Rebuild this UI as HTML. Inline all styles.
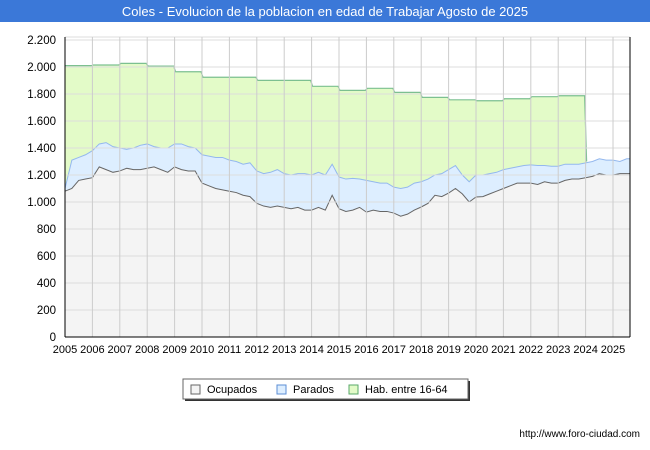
<!DOCTYPE html>
<html><head><meta charset="utf-8"><style>
body{margin:0;background:#fff;font-family:"Liberation Sans",sans-serif}
svg{display:block}
</style></head><body>
<svg id="c" width="650" height="450" viewBox="0 0 650 450">
<rect x="0" y="0" width="650" height="450" fill="#fff"/>
<rect x="0" y="0" width="650" height="22" fill="#3b78d8"/>
<text x="325" y="16" text-anchor="middle" fill="#fff" font-size="13">Coles - Evolucion de la poblacion en edad de Trabajar Agosto de 2025</text>
<g id="bg"></g>
<g id="series"></g>
<g id="grid"></g>
<g id="axes"></g>
<g>
<rect x="185" y="381" width="285" height="20" fill="#333"/>
<rect x="183" y="379" width="285" height="20" fill="#fff" stroke="#666"/>
<rect x="191" y="385" width="9" height="9" fill="#f4f4f4" stroke="#666"/>
<text x="207" y="393" font-size="11" fill="#000">Ocupados</text>
<rect x="277" y="385" width="9" height="9" fill="#ddeeff" stroke="#5b8ed6"/>
<text x="293" y="393" font-size="11" fill="#000">Parados</text>
<rect x="349" y="385" width="9" height="9" fill="#e3fbc8" stroke="#5aa86a"/>
<text x="365" y="393" font-size="11" fill="#000">Hab. entre 16-64</text>
</g>
<text x="640" y="437" text-anchor="end" font-size="10" fill="#000">http://www.foro-ciudad.com</text>
</svg>
<script>
const years = [2005,2006,2007,2008,2009,2010,2011,2012,2013,2014,2015,2016,2017,2018,2019,2020,2021,2022,2023,2024,2025];
const yTicks = [0,200,400,600,800,1000,1200,1400,1600,1800,2000,2200];
const yTickLabels = ["0","200","400","600","800","1.000","1.200","1.400","1.600","1.800","2.000","2.200"];
const habYears = [2005,2006,2007,2008,2009,2010,2011,2012,2013,2014,2015,2016,2017,2018,2019,2020,2021,2022,2023];
const hab = [2010,2015,2027,2007,1965,1924,1924,1901,1901,1857,1827,1842,1812,1775,1757,1750,1765,1780,1787];
const ocupados = [1080,1100,1160,1170,1180,1260,1240,1220,1230,1250,1240,1240,1250,1260,1240,1220,1260,1240,1230,1230,
1140,1120,1100,1090,1080,1070,1050,1040,990,970,960,970,960,950,960,940,940,960,940,1050,
950,930,940,960,925,940,930,930,918,895,910,940,963,990,1050,1040,1066,1100,1060,1000,
1037,1040,1060,1080,1100,1120,1140,1140,1140,1130,1150,1140,1140,1160,1170,1170,1180,1190,1210,1200,1200,1210,1210];
const parados = [20,210,170,180,200,170,200,190,170,140,160,180,180,150,160,180,170,190,180,170,
210,220,230,240,230,230,230,250,240,240,260,270,250,250,250,270,260,260,260,230,
235,240,235,210,235,210,210,210,192,205,200,200,187,180,150,170,174,170,140,150,
163,160,150,140,140,130,120,130,135,140,120,125,125,120,110,110,110,110,110,110,110,90,110];

const NS="http://www.w3.org/2000/svg";
const L=65,R=630,T=37,B=337;
const x0=2005,x1=2025.62,yMax=2200;
const sx=t=>L+(t-x0)/(x1-x0)*(R-L);
const sy=v=>B-v/yMax*297;
function mk(tag,attrs,parent){const e=document.createElementNS(NS,tag);for(const k in attrs)e.setAttribute(k,attrs[k]);parent.appendChild(e);return e;}
const bg=document.getElementById('bg'),grid=document.getElementById('grid'),ser=document.getElementById('series'),ax=document.getElementById('axes');
mk('rect',{x:L,y:T,width:R-L,height:B-T,fill:'#fff'},bg);
mk('line',{x1:L,x2:R,y1:T,y2:T,stroke:'#ddd'},grid);
yTicks.forEach((v,i)=>{
  const g=mk('line',{x1:L,x2:R,y1:sy(v),y2:sy(v),stroke:'#ddd'},grid);
  
  
  const t=mk('text',{x:L-9,y:sy(v)+4,'text-anchor':'end','font-size':'11.5',fill:'#000'},ax);
  t.textContent=yTickLabels[i];
  
  
});
years.forEach(y=>{
  const g=mk('line',{x1:sx(y),x2:sx(y),y1:T,y2:B,stroke:'#ccc'},grid);
  
  
  const t=mk('text',{x:sx(y),y:B+16,'text-anchor':'middle','font-size':'11',fill:'#000'},ax);
  t.textContent=String(y);
  
  
});
const tq=i=>x0+i*0.25;
const totals=ocupados.map((o,i)=>o+parados[i]);
let hp=[];
habYears.forEach((y,i)=>{hp.push([sx(y)+(i?1:0),sy(hab[i])]);hp.push([sx(y+1)-1,sy(hab[i])]);});
const lastX=sx(habYears[habYears.length-1]+1)+1;
hp.push([lastX,sy(totals[77])]);
const habFill=mk('path',{d:'M'+sx(2005)+','+B+' L'+hp.map(p=>p.join(',')).join(' L')+' L'+lastX+','+B+'Z',fill:'#e3fbc8'},ser);


const habLine=mk('path',{d:'M'+hp.map(p=>p.join(',')).join(' L'),fill:'none',stroke:'#7cc090','stroke-width':'1.2'},ser);


const tp=totals.map((v,i)=>[sx(tq(i)),sy(v)]);
const op=ocupados.map((v,i)=>[sx(tq(i)),sy(v)]);
const parFill=mk('path',{d:'M'+L+','+B+' L'+tp.map(p=>p.join(',')).join(' L')+' L'+R+','+tp[tp.length-1][1]+' L'+R+','+B+'Z',fill:'#ddeeff'},ser);


const parLine=mk('path',{d:'M'+tp.map(p=>p.join(',')).join(' L')+' L'+R+','+tp[tp.length-1][1],fill:'none',stroke:'#94b8ee','stroke-width':'1'},ser);


const ocFill=mk('path',{d:'M'+L+','+B+' L'+op.map(p=>p.join(',')).join(' L')+' L'+R+','+op[op.length-1][1]+' L'+R+','+B+'Z',fill:'#f4f4f4'},ser);


const ocLine=mk('path',{d:'M'+op.map(p=>p.join(',')).join(' L')+' L'+R+','+op[op.length-1][1],fill:'none',stroke:'#666','stroke-width':'1'},ser);


mk('line',{x1:L,x2:L,y1:T,y2:B,stroke:'#000'},ax);
mk('line',{x1:R,x2:R,y1:T,y2:B,stroke:'#000'},ax);
mk('line',{x1:L,x2:R,y1:B,y2:B,stroke:'#000'},ax);
</script>
</body></html>
